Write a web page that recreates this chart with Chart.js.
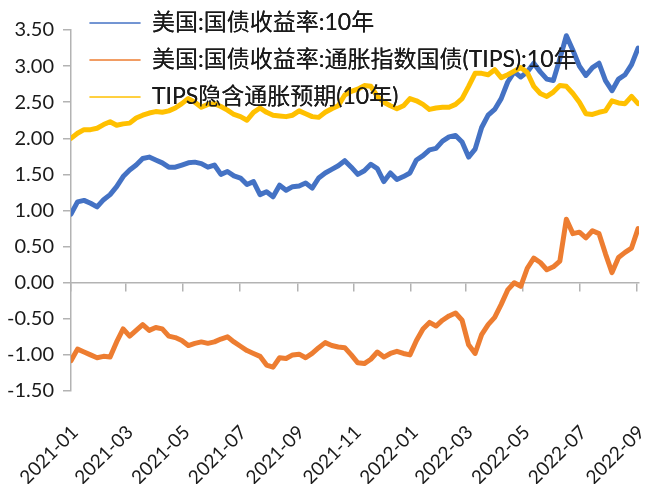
<!DOCTYPE html>
<html><head><meta charset="utf-8">
<script src="https://cdn.jsdelivr.net/npm/chart.js@4/dist/chart.umd.min.js"></script>
<style>html,body{margin:0;padding:0;background:#fff;}canvas{display:block;}</style>
</head><body>
<canvas id="c" width="646" height="484"></canvas>
<script>
// ---- data ----
const seriesNames = ['美国:国债收益率:10年', '美国:国债收益率:通胀指数国债(TIPS):10年', 'TIPS隐含通胀预期(10年)'];
const startDate = '2021-01-01';   // first observation, then one observation per week
const stepDays = 7;
const nominal10y = [
  0.95,1.12,1.14,1.10,1.05,1.15,1.22,1.33,1.47,1.56,
  1.63,1.72,1.74,1.70,1.66,1.60,1.60,1.63,1.66,1.67,
  1.65,1.60,1.63,1.50,1.54,1.48,1.45,1.36,1.40,1.22,
  1.26,1.19,1.35,1.28,1.33,1.34,1.38,1.31,1.45,1.52,
  1.57,1.62,1.69,1.60,1.50,1.55,1.64,1.58,1.40,1.52,
  1.43,1.47,1.52,1.70,1.76,1.84,1.86,1.96,2.02,2.04,
  1.95,1.74,1.85,2.15,2.32,2.40,2.55,2.78,2.92,2.85,
  2.92,3.04,2.92,2.82,2.80,3.10,3.42,3.22,3.00,2.87,
  2.98,3.04,2.80,2.66,2.82,2.88,3.02,3.25
];
const tipsReal10y = [
  -1.08,-0.92,-0.96,-1.00,-1.04,-1.02,-1.03,-0.82,-0.64,-0.74,
  -0.66,-0.58,-0.66,-0.62,-0.64,-0.74,-0.76,-0.80,-0.87,-0.84,
  -0.82,-0.84,-0.82,-0.78,-0.75,-0.82,-0.88,-0.94,-0.98,-1.02,
  -1.14,-1.17,-1.04,-1.05,-1.00,-0.99,-1.04,-0.98,-0.90,-0.83,
  -0.87,-0.89,-0.90,-1.00,-1.11,-1.12,-1.06,-0.96,-1.03,-0.98,
  -0.95,-0.98,-1.00,-0.80,-0.64,-0.55,-0.60,-0.52,-0.46,-0.42,
  -0.52,-0.86,-0.98,-0.72,-0.58,-0.48,-0.30,-0.10,0.00,-0.05,
  0.20,0.34,0.28,0.18,0.22,0.30,0.88,0.68,0.70,0.62,
  0.72,0.68,0.40,0.14,0.35,0.42,0.48,0.75
];
const breakeven10y = [
  2.00,2.07,2.12,2.12,2.14,2.19,2.23,2.18,2.20,2.21,
  2.28,2.32,2.35,2.37,2.36,2.38,2.42,2.48,2.55,2.50,
  2.43,2.47,2.48,2.44,2.39,2.33,2.30,2.25,2.36,2.42,
  2.36,2.32,2.31,2.30,2.32,2.38,2.34,2.30,2.29,2.36,
  2.41,2.45,2.60,2.65,2.68,2.73,2.72,2.58,2.50,2.45,
  2.41,2.45,2.55,2.52,2.47,2.40,2.42,2.43,2.43,2.47,
  2.55,2.72,2.90,2.90,2.88,2.95,2.84,2.88,2.93,2.98,
  2.91,2.72,2.62,2.58,2.64,2.73,2.72,2.62,2.50,2.34,
  2.33,2.36,2.38,2.52,2.49,2.48,2.58,2.48
];
const xTickLabels = ['2021-01','2021-03','2021-05','2021-07','2021-09','2021-11','2022-01','2022-03','2022-05','2022-07','2022-09'];
const yMin = -1.5, yMax = 3.5, yStep = 0.5;

// ---- helpers ----
const DAY = 86400000;
const t0 = Date.parse(startDate + 'T00:00:00Z');
function dayOffset(label) {
  const [y, m] = label.split('-').map(Number);
  return Math.round((Date.UTC(y, m - 1, 1) - t0) / DAY);
}
const xTickDays = xTickLabels.map(dayOffset);
const toPoints = arr => arr.map((v, i) => ({ x: i * stepDays, y: v }));
const xMax = (nominal10y.length - 1) * stepDays + 1;

const FONT = 'Lato, "Noto Sans CJK SC", sans-serif';
const AXIS = '#b3b3b3';
const TEXT = '#1a1a1a';
const setTicks = s => { s.ticks = xTickDays.map(v => ({ value: v })); };

const legendMover = {
  id: 'legendMover',
  afterLayout(chart) {
    const l = chart.legend; if (!l) return;
    const w = l.width, h = l.height;
    l.left = 75.5; l.top = -2.5; l.right = l.left + w; l.bottom = l.top + h;
  },
  afterDatasetsDraw(chart) { if (chart.legend) chart.legend.draw(); }
};

new Chart(document.getElementById('c'), {
  type: 'line',
  data: {
    datasets: [
      { label: seriesNames[0], data: toPoints(nominal10y), borderColor: '#4472C4', backgroundColor: '#4472C4', order: 2 },
      { label: seriesNames[1], data: toPoints(tipsReal10y), borderColor: '#ED7D31', backgroundColor: '#ED7D31', order: 1 },
      { label: seriesNames[2], data: toPoints(breakeven10y), borderColor: '#FFC000', backgroundColor: '#FFC000', order: 0 }
    ]
  },
  options: {
    responsive: false, animation: false, devicePixelRatio: 1,
    elements: {
      line: { borderWidth: 5, tension: 0, borderCapStyle: 'round', borderJoinStyle: 'round', fill: false },
      point: { radius: 0, hoverRadius: 0 }
    },
    layout: { autoPadding: false, padding: { top: 30, left: 6, right: 7, bottom: 0 } },
    scales: {
      x: {
        type: 'linear', position: { y: 0 }, min: 0, max: xMax, afterBuildTicks: setTicks,
        ticks: { display: false },
        grid: { drawOnChartArea: false, drawTicks: true, tickLength: 8, color: AXIS, lineWidth: 1.5 },
        border: { display: true, color: AXIS, width: 1.5 }
      },
      x2: {
        type: 'linear', position: 'bottom', min: 0, max: xMax, afterBuildTicks: setTicks,
        grid: { display: false }, border: { display: false },
        ticks: {
          autoSkip: false, maxRotation: 45, minRotation: 45, padding: 22, labelOffset: 4,
          font: { family: FONT, size: 19 }, color: TEXT,
          callback: v => { const k = xTickDays.indexOf(v); return k >= 0 ? xTickLabels[k] : ''; }
        },
        afterFit: s => { s.height = 93; s.paddingLeft = 0; s.paddingRight = 0; }
      },
      y: {
        type: 'linear', min: yMin, max: yMax,
        ticks: { stepSize: yStep, padding: 9, font: { family: FONT, size: 20 }, color: TEXT, callback: v => Number(v).toFixed(2) },
        grid: { drawOnChartArea: false, drawTicks: true, tickLength: 8, color: AXIS, lineWidth: 1.5 },
        border: { display: true, color: AXIS, width: 1.5 },
        afterFit: s => { s.width = 65; s.paddingTop = 0; s.paddingBottom = 0; }
      }
    },
    plugins: {
      legend: {
        position: 'chartArea', align: 'start',
        labels: {
          usePointStyle: true, pointStyle: 'line', pointStyleWidth: 51, padding: 14,
          font: { family: FONT, size: 23 }, color: TEXT,
          sort: (a, b) => a.datasetIndex - b.datasetIndex
        }
      },
      tooltip: { enabled: false }
    }
  },
  plugins: [legendMover]
});
</script>
</body></html>
